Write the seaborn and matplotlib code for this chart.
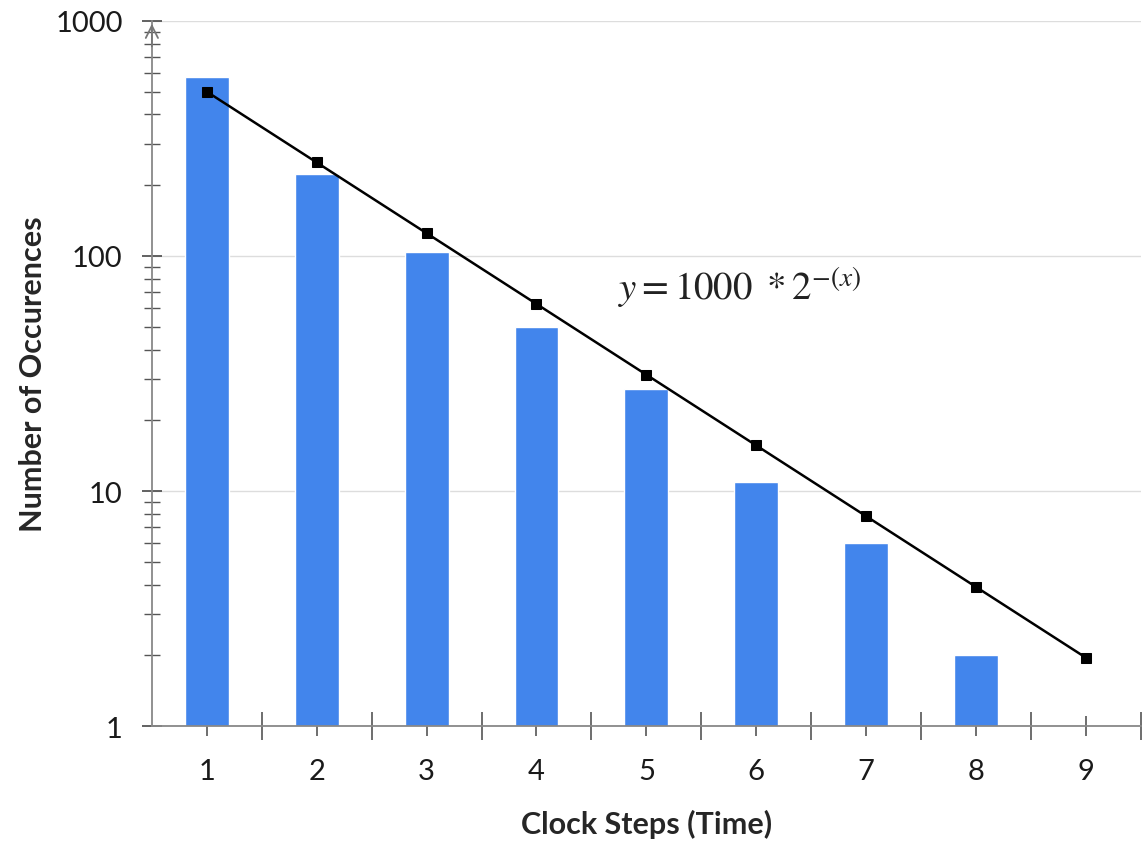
import seaborn as sns
import matplotlib.pyplot as plt
import pandas as pd
import numpy as np
from matplotlib.ticker import FixedLocator, NullFormatter

# data
steps = [1, 2, 3, 4, 5, 6, 7, 8, 9]
occurrences = [575, 223, 104, 50, 27.2, 10.9, 6.0, 2.0, np.nan]
model = [500, 250, 125, 62.5, 31.25, 15.625, 7.8125, 3.906, 1.953]
y_ticks = [1, 10, 100, 1000]
y_tick_labels = ["1", "10", "100", "1000"]

df = pd.DataFrame({"step": steps, "count": occurrences, "model": model})

sns.set_theme(style="white")
plt.rcParams['font.family'] = ['Lato', 'DejaVu Sans']
plt.rcParams['mathtext.fontset'] = 'stix'

fig = plt.figure(figsize=(11.42, 8.45), dpi=100)
ax = fig.add_axes([0.133, 0.1396, 0.866, 0.8344])

sns.barplot(data=df, x="step", y="count", native_scale=True, width=0.4,
            color="#4285EC", saturation=1, ax=ax)
sns.lineplot(data=df, x="step", y="model", color="black", lw=1.8,
             marker="s", markersize=7, markeredgecolor="black", ax=ax)

ax.set_yscale("log")
ax.set_ylim(1, 1000)
ax.set_xlim(0.5, 9.5)

ax.set_yticks(y_ticks)
ax.set_yticklabels(y_tick_labels)
ax.yaxis.set_minor_formatter(NullFormatter())
ax.set_xticks(steps)
ax.set_xticklabels([str(s) for s in steps])
ax.xaxis.set_minor_locator(FixedLocator([s + 0.5 for s in steps]))

ax.tick_params(axis="y", which="major", direction="inout", length=14, width=1.3,
               color="#555555", labelsize=21, pad=14, left=True,
               labelcolor="#1a1a1a")
ax.tick_params(axis="y", which="minor", direction="inout", length=12, width=1.0,
               color="#555555", left=True)
ax.tick_params(axis="x", which="major", direction="inout", length=14, width=1.2,
               color="#555555", labelsize=21, pad=16, bottom=True,
               labelcolor="#1a1a1a")
ax.tick_params(axis="x", which="minor", direction="inout", length=20, width=1.2,
               color="#555555", bottom=True)

ax.grid(axis="y", which="major", color="#DDDDDD", lw=1)
for s in ["top", "right"]:
    ax.spines[s].set_visible(False)
for s in ["left", "bottom"]:
    ax.spines[s].set_color("#888888")
    ax.spines[s].set_linewidth(1.3)

# arrow head on top of the y axis
ax.annotate("", xy=(0, 1.0), xycoords="axes fraction", xytext=(0, 0.96),
            arrowprops=dict(arrowstyle="->", color="#777777", lw=1.3,
                            mutation_scale=22))

ax.text(4.74, 66, r"$y = 1000\ * 2^{-(x)}$", fontsize=28, color="#222222")

ax.set_xlabel("Clock Steps (Time)", fontsize=22, fontweight="bold", labelpad=18)
ax.set_ylabel("Number of Occurences", fontsize=22, fontweight="bold", labelpad=6)

fig.savefig("out.png", dpi=100)
